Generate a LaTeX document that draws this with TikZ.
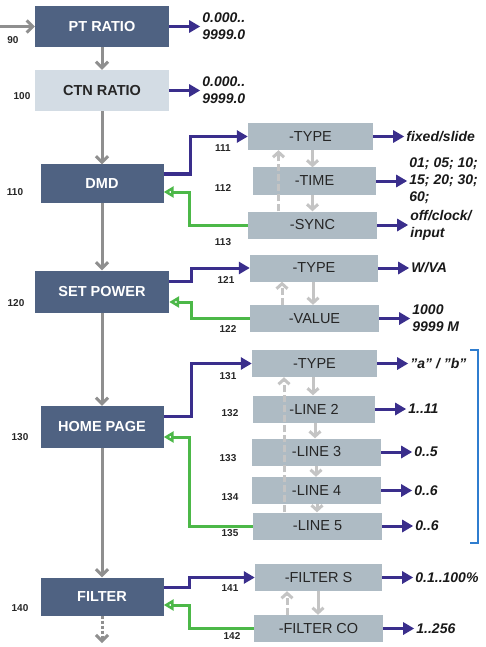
\documentclass[tikz,border=0pt]{standalone}
\usepackage{fontspec}
\setmainfont{Liberation Sans}
\usetikzlibrary{arrows.meta,positioning}
\definecolor{mainblue}{HTML}{4F6282}
\definecolor{ctnfill}{HTML}{D3DCE4}
\definecolor{subfill}{HTML}{AEBBC4}
\definecolor{outblue}{HTML}{3A2E8C}
\definecolor{backgreen}{HTML}{4CB848}
\definecolor{arrgray}{HTML}{8F8F8F}
\definecolor{ltgray}{HTML}{C4C4C4}
\definecolor{brkblue}{HTML}{2F7DCF}

\begin{document}
\begin{tikzpicture}[x=1pt,y=-1pt]
\tikzstyle{mb}=[rectangle, minimum width=134pt, minimum height=41pt, fill=mainblue, text=white, font=\fontsize{14.5}{16}\selectfont\bfseries]
\tikzstyle{mbs}=[mb, minimum width=123pt, minimum height=38pt]
\tikzstyle{mbl}=[mb, fill=ctnfill, text=black!85]
\tikzstyle{sb}=[rectangle, minimum width=127pt, minimum height=27pt, fill=subfill, text=black!85, font=\fontsize{14.5}{16}\selectfont]
\tikzstyle{outtxt}=[align=left, inner sep=2pt, text=black!90, font=\fontsize{14}{17}\selectfont\bfseries\itshape]
\tikzstyle{num}=[text=black!85, font=\fontsize{10}{12}\selectfont\bfseries]
\tikzstyle{grarr}=[draw=arrgray, line width=3pt, -{Straight Barb[length=6pt,width=12pt]}]
\tikzstyle{ltarr}=[draw=ltgray, line width=3pt, -{Straight Barb[length=5pt,width=11pt]}]
\tikzstyle{ltdash}=[ltarr, dash pattern=on 7pt off 3pt]
\tikzstyle{blu}=[draw=outblue, line width=3pt, -{Triangle[length=11pt,width=12pt]}]
\tikzstyle{grn}=[draw=backgreen, line width=3pt, -{Triangle[open,length=10pt,width=11pt]}]
\useasboundingbox (0,0) rectangle (485,647);
% main column
\node (90) [mb] at (102,26.5) {PT RATIO};
\node (100) [mbl] at (102,90.5) {CTN RATIO};
\node (110) [mbs] at (102,183.5) {DMD};
\node (120) [mb, minimum height=42pt] at (102,291.5) {SET POWER};
\node (130) [mbs, minimum height=42pt] at (102,427) {HOME PAGE};
\node (140) [mbs] at (102,596.5) {FILTER};
\coordinate (in) at (0,26.5);
\coordinate (pg) at (102,643);
\draw[grarr] (in) -- (90);
\draw[grarr] (90) -- (100);
\draw[grarr] (100) -- (110);
\draw[grarr] (110) -- (120);
\draw[grarr] (120) -- (130);
\draw[grarr] (130) -- (140);
\draw[grarr, dash pattern=on 3pt off 2pt] (140) -- (pg);
% numbers
\node (n90) [num] at (13,40) {90};
\node (n100) [num] at (22,96) {100};
\node (n110) [num] at (15,192) {110};
\node (n120) [num] at (16,303) {120};
\node (n130) [num] at (20,437) {130};
\node (n140) [num] at (20,608) {140};
% sub boxes
\node (111) [sb, minimum width=125pt] at (310.5,136.5) {-TYPE};
\node (112) [sb, minimum width=123pt] at (314.5,181) {-TIME};
\node (113) [sb, minimum width=129pt] at (312.5,225) {-SYNC};
\node (121) [sb, minimum width=128pt] at (314,268) {-TYPE};
\node (122) [sb, minimum width=129pt] at (314.5,318.5) {-VALUE};
\node (131) [sb, minimum width=125pt] at (314.5,363.5) {-TYPE};
\node (132) [sb, minimum width=122pt] at (314,409) {-LINE 2};
\node (133) [sb, minimum width=129pt] at (316.5,452) {-LINE 3};
\node (134) [sb, minimum width=129pt] at (316.5,490.5) {-LINE 4};
\node (135) [sb, minimum width=129pt] at (317.5,526) {-LINE 5};
\node (141) [sb] at (318.5,577.5) {-FILTER S};
\node (142) [sb, minimum width=129pt] at (318.5,628.5) {-FILTER CO};
\node (n111) [num] at (223,148) {111};
\node (n112) [num] at (223,188) {112};
\node (n113) [num] at (223,242) {113};
\node (n121) [num] at (226,280) {121};
\node (n122) [num] at (228,329) {122};
\node (n131) [num] at (228,376) {131};
\node (n132) [num] at (230,413) {132};
\node (n133) [num] at (228,458) {133};
\node (n134) [num] at (230,497) {134};
\node (n135) [num] at (230,533) {135};
\node (n141) [num] at (230,588) {141};
\node (n142) [num] at (232,636) {142};
% outputs
\node (o90) [outtxt, right=31pt of 90] {0.000..\\9999.0};
\node (o100) [outtxt, right=31pt of 100] {0.000..\\9999.0};
\node (o111) [outtxt, right=31pt of 111] {fixed/slide};
\node (o112) [outtxt, right=31pt of 112] {01; 05; 10;\\15; 20; 30;\\60;};
\node (o113) [outtxt, right=31pt of 113] {off/clock/\\input};
\node (o121) [outtxt, right=31pt of 121] {W/VA};
\node (o122) [outtxt, right=31pt of 122] {1000\\9999 M};
\node (o131) [outtxt, right=31pt of 131] {\symbol{34}a\symbol{34} / \symbol{34}b\symbol{34}};
\node (o132) [outtxt, right=31pt of 132] {1..11};
\node (o133) [outtxt, right=31pt of 133] {0..5};
\node (o134) [outtxt, right=31pt of 134] {0..6};
\node (o135) [outtxt, right=31pt of 135] {0..6};
\node (o141) [outtxt, right=31pt of 141] {0.1..100\%};
\node (o142) [outtxt, right=31pt of 142] {1..256};
\foreach \k in {90,100,111,112,113,121,122,131,132,133,134,135,141,142}
  \draw[blu] (\k) -- (o\k);
% DMD
\draw[blu] ([yshift=9.5pt]110.east) -- ++(27,0) |- (111);
\draw[grn] (113.west) -- ++(-58,0) |- ([yshift=-8.5pt]110.east);
\draw[ltarr] ([xshift=2pt]111.south) -- ([xshift=2pt]111.south |- 112.north);
\draw[ltarr] ([xshift=-2pt]112.south) -- ([xshift=-2pt]112.south |- 113.north);
\draw[ltdash] ([xshift=-32pt]111.south |- 113.north) -- ([xshift=-32pt]111.south);
% SET POWER
\draw[blu] ([yshift=10.5pt]120.east) -- ++(22,0) |- (121);
\draw[grn] (122.west) -- ++(-58,0) |- ([yshift=-10.5pt]120.east);
\draw[ltarr] (121.south -| 313,0) -- (122.north -| 313,0);
\draw[ltdash] (122.north -| 282,0) -- (121.south -| 282,0);
% HOME PAGE
\draw[blu] ([yshift=11pt]130.east) -- ++(28,0) |- (131);
\draw[grn] (135.west) -- ++(-63,0) |- ([yshift=-10pt]130.east);
\draw[ltarr] (131.south -| 313,0) -- (132.north -| 313,0);
\draw[ltarr] (132.south -| 315,0) -- (133.north -| 315,0);
\draw[ltarr] (133.south -| 316,0) -- (134.north -| 316,0);
\draw[ltarr] (134.south -| 317,0) -- (135.north -| 317,0);
\draw[ltdash] (135.north -| 284,0) -- (131.south -| 284,0);
\draw[brkblue, line width=2pt] (470,350) -- (478,350) -- (478,543) -- (470,543);
% FILTER
\draw[blu] ([yshift=9.5pt]140.east) -- ++(26,0) |- (141);
\draw[grn] (142.west) -- ++(-64,0) |- ([yshift=-8.5pt]140.east);
\draw[ltarr] (141.south -| 318,0) -- (142.north -| 318,0);
\draw[ltdash] (142.north -| 287,0) -- (141.south -| 287,0);
\end{tikzpicture}
\end{document}
